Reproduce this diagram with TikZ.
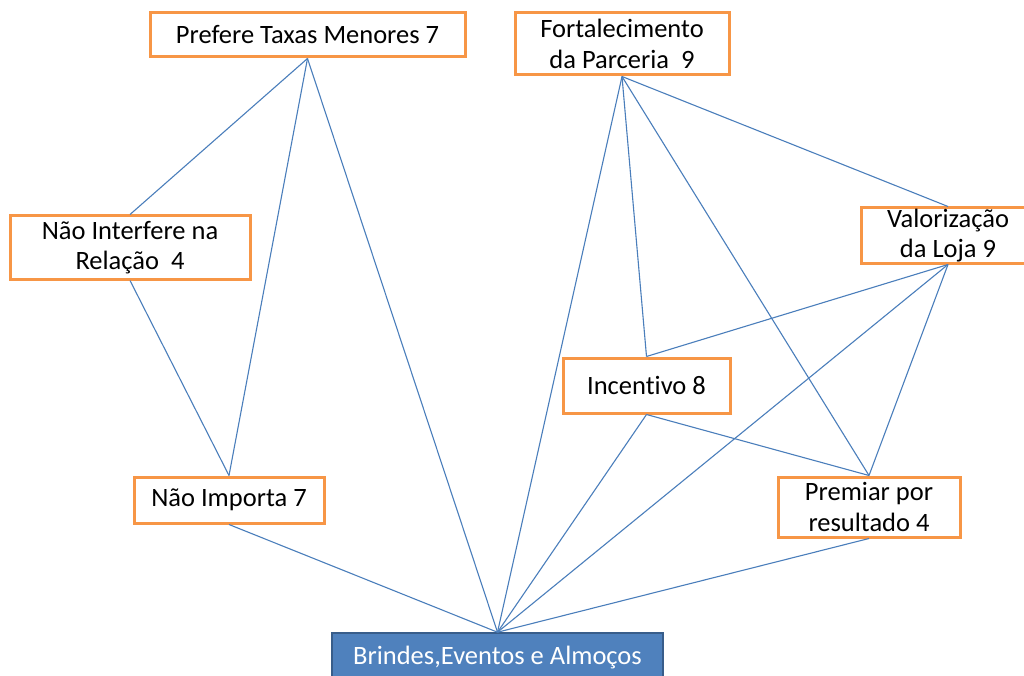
\documentclass[tikz,border=0pt]{standalone}
\usepackage{fontspec}
\setmainfont[Ligatures=NoCommon]{Carlito}
\definecolor{boxorange}{HTML}{F79646}
\definecolor{linkblue}{HTML}{4A7EBB}
\definecolor{fillblue}{HTML}{4F81BD}
\definecolor{edgeblue}{HTML}{385D8A}
\tikzset{
  obox/.style={draw=boxorange, line width=3pt, fill=white, inner sep=0pt,
    align=center, font=\fontsize{26.5}{30.5}\selectfont, text=black},
  bbox/.style={draw=edgeblue, line width=1.6pt, fill=fillblue, inner sep=0pt,
    align=center, font=\fontsize{26.5}{30.5}\selectfont, text=white},
  link/.style={draw=linkblue, line width=1.1pt}
}
\begin{document}
\begin{tikzpicture}[x=1pt,y=-1pt]
\clip (0,0) rectangle (1024,676);
\fill[white] (0,0) rectangle (1024,676);
\node[obox, minimum width=315pt, minimum height=44pt] (pref) at (307.5,35) {Prefere Taxas Menores 7};
\node[obox, minimum width=214pt, minimum height=62pt] (fort) at (622,44) {Fortalecimento\\da Parceria\ \ 9};
\node[obox, minimum width=240pt, minimum height=63pt] (nint) at (130,247.5) {Não Interfere na\\Relação\ \ 4};
\node[obox, minimum width=174pt, minimum height=55pt] (val) at (948,235.5) {Valorização\\da Loja 9};
\node[obox, minimum width=167pt, minimum height=55pt] (inc) at (646.5,385.5) {Incentivo 8};
\node[obox, minimum width=190pt, minimum height=46pt] (nimp) at (229,500) {Não Importa 7};
\node[obox, minimum width=182pt, minimum height=60pt] (prem) at (869,507) {Premiar por\\resultado 4};
\node[bbox, minimum width=331pt, minimum height=50pt] (brin) at (497.5,658) {Brindes,Eventos e Almoços};
\begin{scope}[link]
\draw (pref.south) -- (nint.north);
\draw (pref.south) -- (nimp.north);
\draw (pref.south) -- (brin.north);
\draw (nint.south) -- (nimp.north);
\draw (nimp.south) -- (brin.north);
\draw (fort.south) -- (brin.north);
\draw (fort.south) -- (inc.north);
\draw (fort.south) -- (prem.north);
\draw (fort.south) -- (val.north);
\draw (val.south) -- (inc.north);
\draw (val.south) -- (brin.north);
\draw (val.south) -- (prem.north);
\draw (inc.south) -- (brin.north);
\draw (inc.south) -- (prem.north);
\draw (prem.south) -- (brin.north);
\end{scope}
\end{tikzpicture}
\end{document}
